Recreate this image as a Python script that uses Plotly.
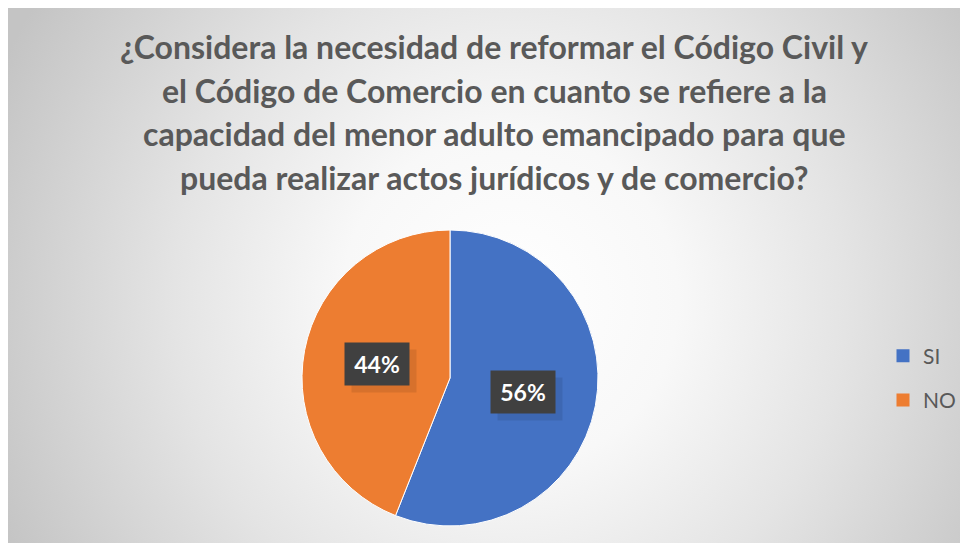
import math
import plotly.graph_objects as go

# data
labels = ["SI", "NO"]
values = [56, 44]
colors = ["#4472C4", "#ED7D31"]
title_lines = [
    "¿Considera la necesidad de reformar el Código Civil y",
    "el Código de Comercio en cuanto se refiere a la",
    "capacidad del menor adulto emancipado para que",
    "pueda realizar actos jurídicos y de comercio?",
]

# figure size; the page body adds an 8px margin around it
W, H = 960, 535
# pie centre and radius (pixels, figure coords)
cx, cy, r = 442, 370, 148

fig = go.Figure()

# radial gradient background, drawn as a filled square clipped to the plot area
gx, gy, gr = 502, 292, 560
fig.add_trace(go.Scatter(
    x=[gx - gr, gx + gr, gx + gr, gx - gr, gx - gr],
    y=[gy - gr, gy - gr, gy + gr, gy + gr, gy - gr],
    mode="none", fill="toself",
    fillgradient=dict(type="radial", colorscale=[
        [0, "#ffffff"], [0.3, "#f8f8f8"], [0.6, "#e4e4e4"],
        [0.8, "#d4d4d4"], [1, "#c4c4c4"]]),
    hoverinfo="skip", showlegend=False,
))

fig.add_trace(go.Pie(
    labels=labels, values=values,
    marker=dict(colors=colors, line=dict(color="#ffffff", width=1)),
    sort=False, direction="clockwise", rotation=0,
    textinfo="none", hoverinfo="label+percent", showlegend=False,
    domain=dict(x=[(cx - r) / W, (cx + r) / W],
                y=[(H - cy - r) / H, (H - cy + r) / H]),
))

# legend entries
for lab, col in zip(labels, colors):
    fig.add_trace(go.Scatter(
        x=[None], y=[None], mode="markers", name=lab, legendgroup=lab,
        marker=dict(symbol="square", size=13, color=col),
    ))

annotations = []
for i, line in enumerate(title_lines):
    annotations.append(dict(
        text=line, x=486 / W, y=1 - (39 + 43.5 * i) / H,
        xref="paper", yref="paper", xanchor="center", yanchor="middle",
        showarrow=False, font=dict(family="Lato", size=32, color="#595959", weight="bold"),
    ))

# data labels in the middle of each slice
total = sum(values)
cum = 0
for v in values:
    mid = (cum + v / 2) / total * 2 * math.pi
    cum += v
    lx = cx + 0.5 * r * math.sin(mid)
    ly = cy - 0.5 * r * math.cos(mid)
    pct = f"{round(v / total * 100)}%"
    annotations.append(dict(
        text=" ", x=(lx + 7) / W, y=1 - (ly + 7) / H, xref="paper", yref="paper",
        xanchor="center", yanchor="middle",
        showarrow=False, width=62, height=40, bgcolor="rgba(0,0,0,0.09)",
    ))
    annotations.append(dict(
        text=f"<b>{pct}</b>", x=lx / W, y=1 - ly / H, xref="paper", yref="paper",
        xanchor="center", yanchor="middle",
        showarrow=False, width=62, height=40, bgcolor="#404040",
        font=dict(family="Lato", size=23, color="#ffffff"),
    ))

fig.update_layout(
    width=W, height=H,
    margin=dict(l=0, r=0, t=0, b=0),
    paper_bgcolor="#ffffff", plot_bgcolor="#ffffff",
    xaxis=dict(range=[0, W], visible=False, fixedrange=True),
    yaxis=dict(range=[H, 0], visible=False, fixedrange=True),
    legend=dict(x=875 / W, y=1 - 370 / H, xanchor="left", yanchor="middle",
                bgcolor="rgba(0,0,0,0)", tracegroupgap=14,
                font=dict(family="Lato", size=21, color="#595959")),
    annotations=annotations,
    shapes=[
        # soft shadow behind the pie
        dict(type="circle", xref="x", yref="y", layer="below", line_width=0,
             x0=cx - r - 10, x1=cx + r + 10, y0=cy - r - 10, y1=cy + r + 10,
             fillcolor="rgba(0,0,0,0.035)"),
    ],
    showlegend=True,
)

fig.write_html("out.html")
